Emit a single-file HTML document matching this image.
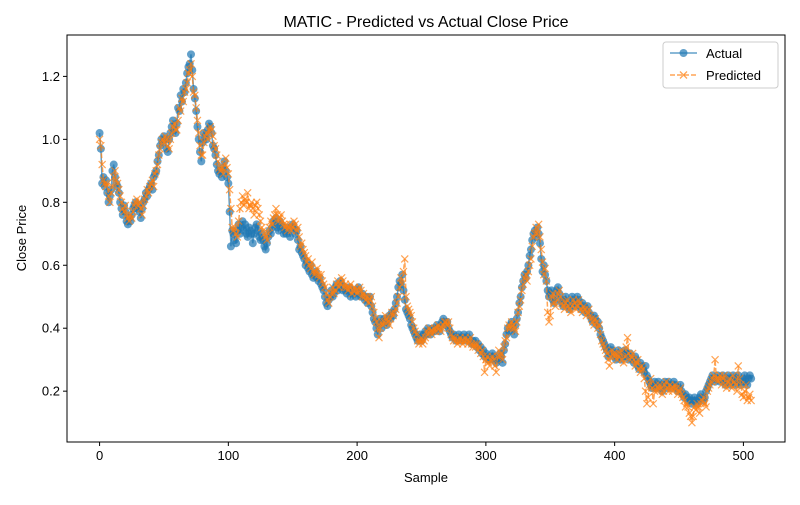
<!DOCTYPE html>
<html><head><meta charset="utf-8"><style>
body{margin:0;background:#fff}
svg{font-family:"Liberation Sans","DejaVu Sans",sans-serif}
</style></head><body>
<svg id="chart" width="800" height="500" xmlns="http://www.w3.org/2000/svg">
<rect width="800" height="500" fill="#fff"/>
<text x="426" y="27" font-size="16" text-anchor="middle">MATIC - Predicted vs Actual Close Price</text>
<g id="plot"></g>
<rect x="67" y="35" width="718" height="407" fill="none" stroke="#000" stroke-width="1"/>
<text x="426" y="482" font-size="13" text-anchor="middle">Sample</text>
<text x="26" y="238" font-size="13" text-anchor="middle" transform="rotate(-90 26 238)">Close Price</text>
<g>
<rect x="663" y="42" width="115" height="46" rx="3" fill="#fff" fill-opacity="0.8" stroke="#ccc"/>
<g>
<line x1="670" y1="53" x2="697" y2="53" stroke="#1f77b4" stroke-opacity="0.7" stroke-width="1.5"/>
<circle cx="683.5" cy="53" r="4" fill="#1f77b4" fill-opacity="0.7"/>
<text x="706" y="58" font-size="13">Actual</text></g>
<g>
<line x1="670" y1="75" x2="697" y2="75" stroke="#ff7f0e" stroke-opacity="0.7" stroke-width="1.5" stroke-dasharray="5,2"/>
<path d="M680 71.5L687 78.5M687 71.5L680 78.5" stroke="#ff7f0e" stroke-opacity="0.7" stroke-width="1.3"/>
<text x="706" y="80" font-size="13">Predicted</text></g>
</g>
</svg>
<script>
// values in US cents
const actualCents=[102,97,86,88,85,87,83,80,82,84,
90,92,88,86,85,83,80,78,76,79,
77,74,73,75,74,76,78,79,80,78,
79,77,75,78,80,81,83,82,84,85,
86,84,88,89,90,93,95,98,100,99,
101,100,97,96,100,102,104,106,103,102,
105,110,109,114,112,116,115,118,121,123,
124,127,122,116,113,109,104,100,96,93,
99,102,101,100,103,105,104,102,98,97,
95,92,90,89,90,88,91,93,90,88,
86,77,66,71,70,68,67,71,73,70,
72,74,71,73,70,69,72,71,70,67,
70,72,73,71,69,68,70,68,66,65,
67,69,71,70,72,74,73,75,72,71,
74,73,72,70,71,70,72,71,69,72,
73,72,70,71,68,65,66,64,63,62,
60,61,59,58,60,57,56,57,58,56,
55,56,54,53,52,50,48,47,49,50,
52,50,51,53,54,52,53,55,54,52,
53,52,51,52,53,50,51,52,51,50,
52,53,51,50,51,50,49,50,48,49,
50,47,45,43,42,40,38,41,43,40,
42,43,42,41,43,44,43,45,44,46,
48,50,53,55,54,57,52,49,46,45,
44,43,41,40,39,38,37,36,37,38,
36,37,38,39,38,40,39,38,39,40,
39,40,41,40,39,41,42,43,42,41,
42,40,39,38,37,38,37,36,37,38,
37,36,37,38,37,36,37,38,36,35,
36,35,36,34,35,33,34,32,33,31,
32,31,30,30,31,32,31,30,29,30,
30,32,31,29,33,35,38,40,39,41,
42,40,38,41,43,45,48,50,53,55,
57,56,58,60,63,65,68,70,71,69,
72,70,67,62,58,60,57,55,52,50,
51,52,49,48,50,52,53,51,49,48,
47,49,50,48,47,46,48,50,49,47,
48,50,49,47,46,48,47,45,46,47,
45,44,43,42,44,43,41,42,40,38,
37,36,35,34,33,31,32,34,33,32,
31,30,32,33,31,30,32,31,33,32,
31,30,32,31,30,29,31,30,28,27,
29,28,27,26,28,25,24,23,22,21,
22,23,21,22,23,22,21,20,22,23,
22,21,23,22,21,22,23,22,21,20,
21,22,20,19,18,19,18,17,18,17,
16,17,18,17,16,17,18,19,18,17,
18,20,21,22,23,24,25,24,23,24,
25,24,23,24,25,23,22,24,25,23,
22,24,25,23,22,24,25,23,22,23,
24,25,23,22,24,25,24];
const predictedCents=[100,98,92,87,86,85,86,82,80,83,
85,88,90,87,86,84,82,80,78,77,
79,76,75,74,76,75,77,79,80,81,
79,80,78,76,79,81,82,84,83,85,
86,87,85,89,90,92,95,97,99,100,
99,101,100,98,97,100,102,104,105,103,
103,106,110,109,113,112,115,116,118,121,
122,124,120,115,114,110,106,102,98,95,
95,99,101,102,100,103,104,103,101,98,
97,95,93,91,90,91,89,92,94,91,
89,84,78,72,71,72,70,69,74,78,
80,82,79,81,80,83,78,79,80,78,
76,79,80,78,76,74,72,71,70,69,
68,70,72,74,73,75,76,78,76,74,
75,76,74,73,72,73,71,72,73,71,
72,74,73,71,72,69,66,67,65,64,
63,61,62,60,59,61,58,57,58,59,
57,56,57,55,54,53,51,49,48,50,
51,53,51,52,54,55,53,54,56,55,
53,54,53,52,53,54,51,52,53,52,
51,52,53,52,50,51,50,49,50,48,
49,50,47,45,43,42,40,37,40,42,
41,42,44,43,42,41,43,45,44,45,
46,48,50,53,56,54,58,62,50,47,
46,45,44,42,40,39,38,36,35,36,
37,35,36,37,39,38,40,39,38,39,
40,39,40,41,40,39,40,41,42,42,
41,42,40,38,37,36,37,36,35,36,
37,36,35,36,37,36,35,36,37,35,
34,35,34,35,33,34,32,33,31,26,
30,31,29,28,30,31,30,28,26,31,
33,31,32,30,34,36,37,40,41,40,
42,41,40,39,42,45,47,49,52,54,
56,57,55,58,60,62,66,69,70,72,
70,73,69,65,61,57,59,55,45,42,
44,50,51,48,47,49,51,52,50,48,
47,46,48,49,47,46,45,47,49,48,
46,47,49,48,46,45,47,46,44,45,
46,44,43,42,41,43,42,40,41,38,
36,35,34,33,32,30,28,31,33,32,
31,32,30,31,32,33,30,29,31,34,
37,32,30,31,32,30,28,29,30,27,
26,28,27,24,20,16,18,22,24,21,
16,20,22,20,21,22,21,19,20,22,
23,21,20,22,21,20,21,22,21,19,
20,21,19,18,17,15,16,15,13,12,
10,12,15,14,16,15,13,16,17,18,
16,15,20,21,22,23,24,25,30,24,
23,24,25,22,24,25,22,21,23,24,
22,21,25,23,22,20,28,24,22,19,
18,20,22,17,18,19,17];
const xTicks=[0,100,200,300,400,500];
const yTicks=[0.2,0.4,0.6,0.8,1.0,1.2];

const NS="http://www.w3.org/2000/svg";
const X0=67,X1=785,Y0=442,Y1=35;
const xMin=-25.3,xMax=532.3,yMin=0.0385,yMax=1.3315;
function sx(v){return X0+(v-xMin)/(xMax-xMin)*(X1-X0);}
function sy(v){return Y0-(v-yMin)/(yMax-yMin)*(Y0-Y1);}
function mk(tag,attrs,parent){const e=document.createElementNS(NS,tag);for(const k in attrs)e.setAttribute(k,attrs[k]);parent.appendChild(e);return e;}
const svg=document.getElementById('chart');
const plot=document.getElementById('plot');

xTicks.forEach(t=>{
  const g=mk('g',{},svg);
  
  
  mk('line',{x1:sx(t),x2:sx(t),y1:Y0,y2:Y0+4,stroke:'#000'},g);
  const tx=mk('text',{x:sx(t),y:Y0+18,'font-size':13,'text-anchor':'middle'},g);tx.textContent=t;
});
yTicks.forEach(t=>{
  const g=mk('g',{},svg);
  
  
  mk('line',{x1:X0-4,x2:X0,y1:sy(t),y2:sy(t),stroke:'#000'},g);
  const tx=mk('text',{x:X0-7,y:sy(t)+4.5,'font-size':13,'text-anchor':'end'},g);tx.textContent=t.toFixed(1);
});

const actual=actualCents.map(v=>v/100);
const predicted=predictedCents.map(v=>v/100);

const ga=mk('g',{},plot);


mk('polyline',{points:actual.map((v,i)=>sx(i)+','+sy(v)).join(' '),fill:'none',stroke:'#1f77b4','stroke-opacity':0.7,'stroke-width':1.5},ga);
actual.forEach((v,i)=>{
  const c=mk('circle',{cx:sx(i),cy:sy(v),r:4,fill:'#1f77b4','fill-opacity':0.7},ga);
  
  
});

const gp=mk('g',{},plot);


mk('polyline',{points:predicted.map((v,i)=>sx(i)+','+sy(v)).join(' '),fill:'none',stroke:'#ff7f0e','stroke-opacity':0.7,'stroke-width':1.5,'stroke-dasharray':'5,2'},gp);
predicted.forEach((v,i)=>{
  const x=sx(i),y=sy(v);
  const p=mk('path',{d:`M${x-3.5} ${y-3.5}L${x+3.5} ${y+3.5}M${x+3.5} ${y-3.5}L${x-3.5} ${y+3.5}`,stroke:'#ff7f0e','stroke-opacity':0.7,'stroke-width':1.2},gp);
  
  
});
</script>
</body></html>
